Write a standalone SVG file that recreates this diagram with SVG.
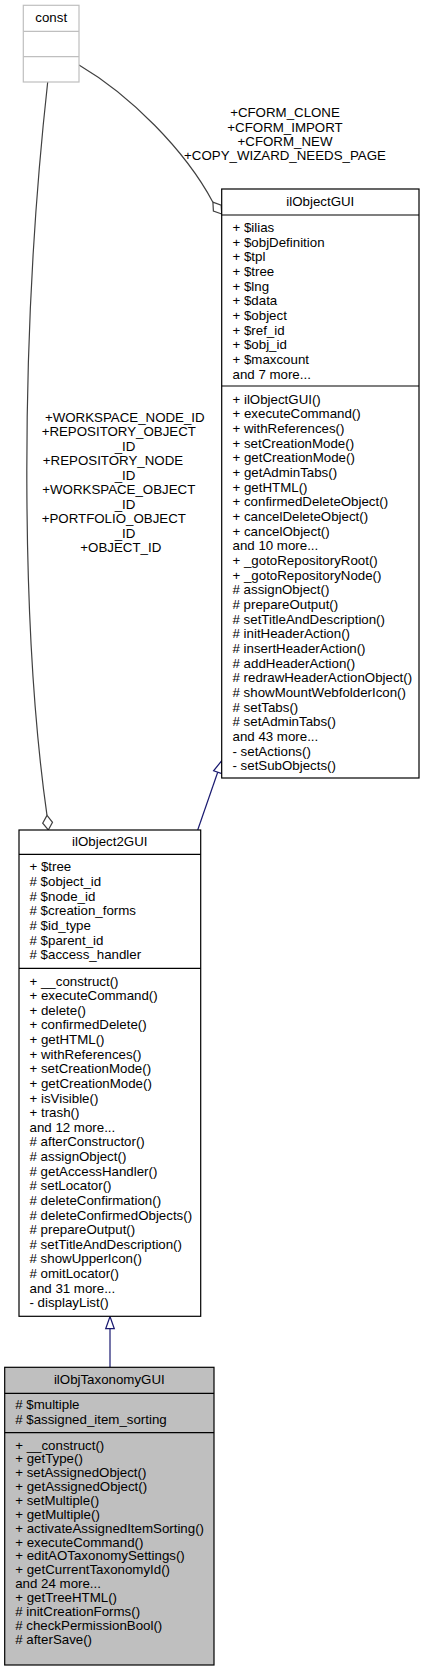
<svg xmlns="http://www.w3.org/2000/svg" width="425" height="1669" viewBox="0 0 425 1669">
<style>
text{font-family:"Liberation Sans",Arial,Helvetica,sans-serif;font-size:13.3px;fill:#000}
.t{text-anchor:middle}
.box{fill:#fff;stroke:#000;stroke-width:1.2}
.gbox{fill:#bfbfbf;stroke:#000;stroke-width:1.2}
.cbox{fill:#fff;stroke:#bfbfbf;stroke-width:1.2}
.div{stroke:#000;stroke-width:1.2}
.cdiv{stroke:#bfbfbf;stroke-width:1.2}
.agg{fill:none;stroke:#404040;stroke-width:1.2}
.aggh{fill:#fff;stroke:#404040;stroke-width:1.2}
.inh{fill:none;stroke:#191970;stroke-width:1.2}
.inhh{fill:#fff;stroke:#191970;stroke-width:1.2}
</style>
<g id="connectors">
<path class="agg" d="M79,65 C130,95 185,150 212.9,202.2"/>
<polygon class="aggh" points="221.7,214 221.2,205.2 212.9,202.2 213.4,211"/>
<text class="t" x="285" y="117.3">+CFORM_CLONE</text>
<text class="t" x="285" y="131.7">+CFORM_IMPORT</text>
<text class="t" x="285" y="146">+CFORM_NEW</text>
<text class="t" x="285" y="160.4">+COPY_WIZARD_NEEDS_PAGE</text>
<path class="agg" d="M47.7,82 C18,350 22,640 47,815.4"/>
<polygon class="aggh" points="48.3,830 52.5,822.3 47,815.4 42.7,823.1"/>
<text class="t" x="124.8" y="421.9">+WORKSPACE_NODE_ID</text>
<text class="t" x="118.8" y="436.4">+REPOSITORY_OBJECT</text>
<text class="t" x="125" y="450.9">_ID</text>
<text class="t" x="113" y="465.4">+REPOSITORY_NODE</text>
<text class="t" x="125" y="479.9">_ID</text>
<text class="t" x="118.8" y="494.4">+WORKSPACE_OBJECT</text>
<text class="t" x="125" y="508.9">_ID</text>
<text class="t" x="113.8" y="523.4">+PORTFOLIO_OBJECT</text>
<text class="t" x="125" y="537.9">_ID</text>
<text class="t" x="120.8" y="552.4">+OBJECT_ID</text>
<path class="inh" d="M197.7,830 L217.7,772.2"/>
<polygon class="inhh" points="221.7,760.7 221.8,773.6 213.6,770.8"/>
<path class="inh" d="M110,1367.3 L110,1328.7"/>
<polygon class="inhh" points="110,1316.5 114.3,1328.7 105.7,1328.7"/>
</g>
<g id="const">
<rect class="cbox" x="23.3" y="5.3" width="55.7" height="76.7"/>
<line class="cdiv" x1="23.3" y1="31.3" x2="79" y2="31.3"/>
<line class="cdiv" x1="23.3" y1="56.7" x2="79" y2="56.7"/>
<text class="t" x="51.2" y="22">const</text>
</g>
<g id="ilObjectGUI">
<rect class="box" x="221.7" y="189" width="197.3" height="589"/>
<line class="div" x1="221.7" y1="215" x2="419" y2="215"/>
<line class="div" x1="221.7" y1="386" x2="419" y2="386"/>
<text class="t" x="320.3" y="205.6">ilObjectGUI</text>
<text x="232.5" y="231.9"><tspan x="232.5">+ $ilias</tspan><tspan x="232.5" dy="14.67">+ $objDefinition</tspan><tspan x="232.5" dy="14.67">+ $tpl</tspan><tspan x="232.5" dy="14.67">+ $tree</tspan><tspan x="232.5" dy="14.67">+ $lng</tspan><tspan x="232.5" dy="14.67">+ $data</tspan><tspan x="232.5" dy="14.67">+ $object</tspan><tspan x="232.5" dy="14.67">+ $ref_id</tspan><tspan x="232.5" dy="14.67">+ $obj_id</tspan><tspan x="232.5" dy="14.67">+ $maxcount</tspan><tspan x="232.5" dy="14.67">and 7 more...</tspan></text>
<text x="232.5" y="403.6"><tspan x="232.5">+ ilObjectGUI()</tspan><tspan x="232.5" dy="14.67">+ executeCommand()</tspan><tspan x="232.5" dy="14.67">+ withReferences()</tspan><tspan x="232.5" dy="14.67">+ setCreationMode()</tspan><tspan x="232.5" dy="14.67">+ getCreationMode()</tspan><tspan x="232.5" dy="14.67">+ getAdminTabs()</tspan><tspan x="232.5" dy="14.67">+ getHTML()</tspan><tspan x="232.5" dy="14.67">+ confirmedDeleteObject()</tspan><tspan x="232.5" dy="14.67">+ cancelDeleteObject()</tspan><tspan x="232.5" dy="14.67">+ cancelObject()</tspan><tspan x="232.5" dy="14.67">and 10 more...</tspan><tspan x="232.5" dy="14.67">+ _gotoRepositoryRoot()</tspan><tspan x="232.5" dy="14.67">+ _gotoRepositoryNode()</tspan><tspan x="232.5" dy="14.67"># assignObject()</tspan><tspan x="232.5" dy="14.67"># prepareOutput()</tspan><tspan x="232.5" dy="14.67"># setTitleAndDescription()</tspan><tspan x="232.5" dy="14.67"># initHeaderAction()</tspan><tspan x="232.5" dy="14.67"># insertHeaderAction()</tspan><tspan x="232.5" dy="14.67"># addHeaderAction()</tspan><tspan x="232.5" dy="14.67"># redrawHeaderActionObject()</tspan><tspan x="232.5" dy="14.67"># showMountWebfolderIcon()</tspan><tspan x="232.5" dy="14.67"># setTabs()</tspan><tspan x="232.5" dy="14.67"># setAdminTabs()</tspan><tspan x="232.5" dy="14.67">and 43 more...</tspan><tspan x="232.5" dy="14.67">- setActions()</tspan><tspan x="232.5" dy="14.67">- setSubObjects()</tspan></text>
</g>
<g id="ilObject2GUI">
<rect class="box" x="19" y="830" width="181.7" height="486.3"/>
<line class="div" x1="19" y1="854.3" x2="200.7" y2="854.3"/>
<line class="div" x1="19" y1="968.3" x2="200.7" y2="968.3"/>
<text class="t" x="109.8" y="846.3">ilObject2GUI</text>
<text x="29.5" y="871.3"><tspan x="29.5">+ $tree</tspan><tspan x="29.5" dy="14.67"># $object_id</tspan><tspan x="29.5" dy="14.67"># $node_id</tspan><tspan x="29.5" dy="14.67"># $creation_forms</tspan><tspan x="29.5" dy="14.67"># $id_type</tspan><tspan x="29.5" dy="14.67"># $parent_id</tspan><tspan x="29.5" dy="14.67"># $access_handler</tspan></text>
<text x="29.5" y="985.6"><tspan x="29.5">+ __construct()</tspan><tspan x="29.5" dy="14.62">+ executeCommand()</tspan><tspan x="29.5" dy="14.62">+ delete()</tspan><tspan x="29.5" dy="14.62">+ confirmedDelete()</tspan><tspan x="29.5" dy="14.62">+ getHTML()</tspan><tspan x="29.5" dy="14.62">+ withReferences()</tspan><tspan x="29.5" dy="14.62">+ setCreationMode()</tspan><tspan x="29.5" dy="14.62">+ getCreationMode()</tspan><tspan x="29.5" dy="14.62">+ isVisible()</tspan><tspan x="29.5" dy="14.62">+ trash()</tspan><tspan x="29.5" dy="14.62">and 12 more...</tspan><tspan x="29.5" dy="14.62"># afterConstructor()</tspan><tspan x="29.5" dy="14.62"># assignObject()</tspan><tspan x="29.5" dy="14.62"># getAccessHandler()</tspan><tspan x="29.5" dy="14.62"># setLocator()</tspan><tspan x="29.5" dy="14.62"># deleteConfirmation()</tspan><tspan x="29.5" dy="14.62"># deleteConfirmedObjects()</tspan><tspan x="29.5" dy="14.62"># prepareOutput()</tspan><tspan x="29.5" dy="14.62"># setTitleAndDescription()</tspan><tspan x="29.5" dy="14.62"># showUpperIcon()</tspan><tspan x="29.5" dy="14.62"># omitLocator()</tspan><tspan x="29.5" dy="14.62">and 31 more...</tspan><tspan x="29.5" dy="14.62">- displayList()</tspan></text>
</g>
<g id="ilObjTaxonomyGUI">
<rect class="gbox" x="4.7" y="1367.3" width="209.3" height="297.7"/>
<line class="div" x1="4.7" y1="1393.3" x2="214" y2="1393.3"/>
<line class="div" x1="4.7" y1="1432.7" x2="214" y2="1432.7"/>
<text class="t" x="109.3" y="1384">ilObjTaxonomyGUI</text>
<text x="15.2" y="1409"><tspan x="15.2"># $multiple</tspan><tspan x="15.2" dy="14.67"># $assigned_item_sorting</tspan></text>
<text x="15.2" y="1449.6"><tspan x="15.2">+ __construct()</tspan><tspan x="15.2" dy="13.85">+ getType()</tspan><tspan x="15.2" dy="13.85">+ setAssignedObject()</tspan><tspan x="15.2" dy="13.85">+ getAssignedObject()</tspan><tspan x="15.2" dy="13.85">+ setMultiple()</tspan><tspan x="15.2" dy="13.85">+ getMultiple()</tspan><tspan x="15.2" dy="13.85">+ activateAssignedItemSorting()</tspan><tspan x="15.2" dy="13.85">+ executeCommand()</tspan><tspan x="15.2" dy="13.85">+ editAOTaxonomySettings()</tspan><tspan x="15.2" dy="13.85">+ getCurrentTaxonomyId()</tspan><tspan x="15.2" dy="13.85">and 24 more...</tspan><tspan x="15.2" dy="13.85">+ getTreeHTML()</tspan><tspan x="15.2" dy="13.85"># initCreationForms()</tspan><tspan x="15.2" dy="13.85"># checkPermissionBool()</tspan><tspan x="15.2" dy="13.85"># afterSave()</tspan></text>
</g>
</svg>
